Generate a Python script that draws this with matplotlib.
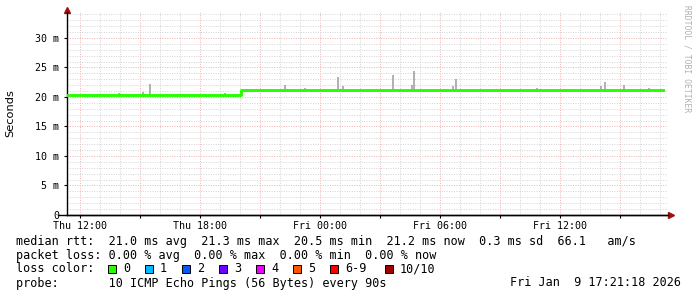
from datetime import datetime, timedelta

import matplotlib
matplotlib.use("Agg")
import matplotlib.dates as mdates
import matplotlib.pyplot as plt
from matplotlib.patches import Rectangle
from matplotlib.ticker import FuncFormatter, MultipleLocator

# data
start = datetime(2026, 1, 8, 11, 21, 18)
end = datetime(2026, 1, 9, 17, 21, 18)

# median rtt (ms), hours since start
median_hours = [0, 1, 2, 3, 4, 5, 6, 7, 8, 8.7, 10, 14, 18, 22, 26, 29.8]
median_ms = [20.35, 20.3, 20.35, 20.3, 20.35, 20.3, 20.35, 20.3, 20.35,
             21.2, 21.2, 21.2, 21.2, 21.2, 21.2, 21.2]

# smoke spikes: hour, top of spread (ms)
smoke_hours = [2.6, 3.8, 4.15, 7.9, 10.9, 11.9, 13.55, 13.8, 16.3, 17.25,
               17.35, 19.3, 19.45, 23.5, 26.7, 26.9, 27.85, 29.1]
smoke_top = [20.7, 20.8, 22.2, 20.7, 22.1, 21.6, 23.4, 21.8, 23.7, 22.0,
             24.4, 21.8, 23.1, 21.6, 21.8, 22.5, 22.0, 21.6]

loss_labels = ["0", "1", "2", "3", "4", "5", "6-9", "10/10"]
loss_colors = ["#26ff00", "#00b8ff", "#0059ff", "#7000ff", "#ee00ff",
               "#ff5500", "#ff0000", "#a10000"]

legend_lines = [
    "median rtt:  21.0 ms avg  21.3 ms max  20.5 ms min  21.2 ms now  0.3 ms sd  66.1   am/s",
    "packet loss: 0.00 % avg  0.00 % max  0.00 % min  0.00 % now",
    "loss color:",
    "probe:       10 ICMP Echo Pings (56 Bytes) every 90s",
]
stamp = "Fri Jan  9 17:21:18 2026"

W, H = 697, 297
MONO = "DejaVu Sans Mono"
FS = 8.5


def fx(px):
    return px / W


def fy(py):
    return 1 - py / H


fig = plt.figure(figsize=(W / 100, H / 100), dpi=100)
fig.patch.set_facecolor("white")
ax = fig.add_axes([fx(67), fy(215), fx(667) - fx(67), fy(12) - fy(215)])

t_med = [start + timedelta(hours=h) for h in median_hours]
t_smoke = [start + timedelta(hours=h) for h in smoke_hours]
base = [20.35 if h < 8.7 else 21.2 for h in smoke_hours]

ax.vlines(t_smoke, base, smoke_top, color="#aaaaaa", linewidth=1.3, zorder=2)
ax.plot(t_med, median_ms, drawstyle="steps-post", color="#26ff00",
        linewidth=2.1, zorder=3)

ax.set_xlim(start, end)
ax.set_ylim(0, 34.4)

# grid
ax.yaxis.set_major_locator(MultipleLocator(5))
ax.yaxis.set_minor_locator(MultipleLocator(1))
ax.xaxis.set_major_locator(mdates.HourLocator(byhour=range(0, 24, 3)))
ax.xaxis.set_minor_locator(mdates.HourLocator())
ax.grid(which="minor", color="#d4d4d4", linestyle=(0, (1, 1.5)), linewidth=0.7)
ax.grid(which="major", color="#f0b0b0", linestyle=(0, (1, 1.5)), linewidth=0.7)
ax.set_axisbelow(True)


def xfmt(v, pos):
    d = mdates.num2date(v)
    return d.strftime("%a %H:%M") if d.hour % 6 == 0 else ""


ax.xaxis.set_major_formatter(FuncFormatter(xfmt))
ax.yaxis.set_major_formatter(FuncFormatter(
    lambda v, pos: "0" if v == 0 else f"{int(v)} m"))

for lab in ax.get_xticklabels() + ax.get_yticklabels():
    lab.set_fontfamily(MONO)
ax.tick_params(axis="both", which="major", labelsize=7.2, length=2.5,
               width=0.8, color="black", pad=2)
ax.tick_params(axis="y", pad=3)
ax.tick_params(axis="both", which="minor", length=0)
ax.tick_params(axis="x", which="major", length=2)

for s in ["top", "right"]:
    ax.spines[s].set_visible(False)
for s in ["left", "bottom"]:
    ax.spines[s].set_color("black")
    ax.spines[s].set_linewidth(1.0)

# axis arrows
fig.lines.append(plt.Line2D([fx(58), fx(668)], [fy(215), fy(215)],
                            color="black", linewidth=1.0,
                            transform=fig.transFigure))
ax.plot([fx(671)], [fy(215)], marker=">", color="#a01010", markersize=4,
        transform=fig.transFigure, clip_on=False)
ax.plot([fx(67)], [fy(10)], marker="^", color="#a01010", markersize=4,
        transform=fig.transFigure, clip_on=False)

fig.text(fx(10), fy(113), "Seconds", rotation=90, ha="center", va="center",
         fontsize=8.2, family="DejaVu Sans")
fig.text(fx(687), fy(5), "RRDTOOL / TOBI OETIKER", rotation=270,
         ha="center", va="top", fontsize=5.8, family=MONO, color="#b0b0b0")

# legend block
rows = [241, 255, 269, 283]
for y, line in zip(rows, legend_lines):
    fig.text(fx(16), fy(y), line, ha="left", va="center", fontsize=FS,
             family=MONO)
fig.text(fx(681), fy(283), stamp, ha="right", va="center", fontsize=FS,
         family=MONO)

x = 108
for lab, col in zip(loss_labels, loss_colors):
    fig.patches.append(Rectangle((fx(x), fy(273)), fx(8), 8 / H,
                                 facecolor=col, edgecolor="black",
                                 linewidth=0.7, transform=fig.transFigure))
    fig.text(fx(x + 15), fy(269), lab, ha="left", va="center", fontsize=FS,
             family=MONO)
    x += 15 + 7 * len(lab) + 15
    if len(lab) > 1:
        x += 4

fig.savefig("out.png", dpi=100)
